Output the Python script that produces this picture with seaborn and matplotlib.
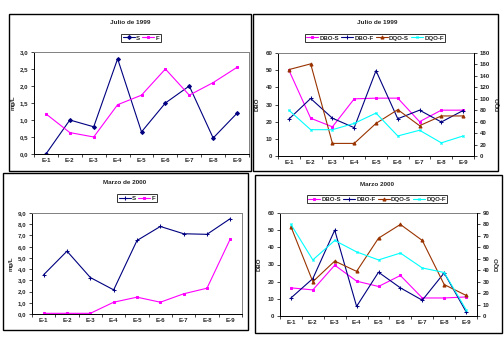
import matplotlib
matplotlib.use("Agg")
import matplotlib.pyplot as plt
from matplotlib.patches import Rectangle
from matplotlib.ticker import FuncFormatter, MultipleLocator, FixedLocator
import seaborn as sns
import pandas as pd

# ---------------- data ----------------
stations = ["E-1", "E-2", "E-3", "E-4", "E-5", "E-6", "E-7", "E-8", "E-9"]

# Julio de 1999 (mg/L)
jul_S = [0.0, 1.0, 0.8, 2.8, 0.65, 1.5, 2.0, 0.47, 1.2]
jul_F = [1.18, 0.63, 0.5, 1.45, 1.73, 2.5, 1.73, 2.1, 2.55]

# Julio de 1999 DBO (left) / DQO (right)
jul_DBO_S = [50.0, 22.0, 17.0, 33.3, 33.7, 33.7, 20.0, 26.7, 26.7]
jul_DBO_F = [21.5, 33.5, 22.0, 16.5, 49.7, 21.7, 26.7, 19.8, 26.5]
jul_DQO_S = [151, 161, 22, 22, 57, 81, 53, 70, 70]
jul_DQO_F = [80, 46, 46, 57, 75, 35, 45, 23, 35]

# Marzo de 2000 (mg/L)
mar_S = [3.5, 5.6, 3.25, 2.15, 6.55, 7.8, 7.15, 7.1, 8.5]
mar_F = [0.06, 0.06, 0.06, 1.05, 1.5, 1.05, 1.8, 2.3, 6.7]

# Marzo 2000 DBO (left) / DQO (right)
mar_DBO_S = [16.4, 15.2, 29.6, 20.3, 17.2, 23.6, 10.5, 10.5, 11.1]
mar_DBO_F = [10.5, 21.8, 50.0, 5.6, 25.5, 16.4, 9.2, 25.1, 2.5]
mar_DQO_S = [78, 30, 48, 39, 68, 80, 66, 27.5, 18]
mar_DQO_F = [80, 49, 66, 56, 49, 55, 42, 38, 5.6]

titles = ["Julio de 1999", "Julio de 1999", "Marzo de 2000", "Marzo 2000"]

# ---------------- style ----------------
sns.set_style("white")
plt.rcParams["font.family"] = ["Liberation Sans", "DejaVu Sans"]
FS = 4.4
W, H = 504, 343

NAVY = "#000080"
MAG = "#FF00FF"
BROWN = "#993300"
CYAN = "#00FFFF"
GREY = "#808080"

fig = plt.figure(figsize=(W / 100, H / 100), dpi=100)
fig.patch.set_facecolor("white")


def px_axes(x0, y0, x1, y1):
    return fig.add_axes([x0 / W, 1 - y1 / H, (x1 - x0) / W, (y1 - y0) / H])


def box(x0, y0, x1, y1):
    fig.patches.append(Rectangle((x0 / W, 1 - y1 / H), (x1 - x0) / W, (y1 - y0) / H,
                                 transform=fig.transFigure, fill=False,
                                 edgecolor="black", linewidth=1.0, zorder=0))


def comma(dec):
    return FuncFormatter(lambda v, p: (f"{v:.{dec}f}").replace(".", ","))


def style_x(ax):
    ax.set_xlim(-0.5, 8.5)
    ax.xaxis.set_minor_locator(FixedLocator([i - 0.5 for i in range(10)]))
    ax.tick_params(axis="x", which="major", length=0, labelsize=FS, pad=3)
    ax.tick_params(axis="x", which="minor", length=2.5, width=0.6, direction="out", bottom=True)
    ax.set_xlabel("")
    for lab in ax.get_xticklabels():
        lab.set_fontweight("bold")


def style_spines(ax, right_black=False):
    for s in ["left", "bottom"]:
        ax.spines[s].set_color("black")
        ax.spines[s].set_linewidth(0.7)
    ax.spines["top"].set_color(GREY)
    ax.spines["top"].set_linewidth(0.7)
    ax.spines["right"].set_color("black" if right_black else GREY)
    ax.spines["right"].set_linewidth(0.7)
    ax.tick_params(axis="y", which="major", length=2.5, width=0.6, direction="out",
                   left=True, labelsize=FS, pad=1.5)
    for lab in ax.get_yticklabels():
        lab.set_fontweight("bold")


def style_right(axb):
    axb.tick_params(axis="y", length=2.5, width=0.6, direction="out", right=True,
                    labelsize=FS, pad=1.5)
    for lab in axb.get_yticklabels():
        lab.set_fontweight("bold")
    for s in ["top", "left", "bottom"]:
        axb.spines[s].set_visible(False)
    axb.spines["right"].set_color("black")
    axb.spines["right"].set_linewidth(0.7)


def line(ax, vals, color, marker, label, ms=2.2):
    df = pd.DataFrame({"E": stations, "v": vals})
    sns.lineplot(data=df, x="E", y="v", ax=ax, color=color, marker=marker,
                 markersize=ms, markeredgecolor=color, markerfacecolor=color,
                 linewidth=0.8, label=label, sort=False)


def legend(handles, labels, cx, cy):
    leg = fig.legend(handles, labels, loc="center", bbox_to_anchor=(cx / W, 1 - cy / H),
                     ncol=len(labels), fontsize=FS, frameon=True, fancybox=False,
                     edgecolor="black", handlelength=2.0, handletextpad=0.2,
                     columnspacing=0.3, borderpad=0.2, borderaxespad=0)
    leg.get_frame().set_linewidth(0.7)
    for t in leg.get_texts():
        t.set_fontweight("bold")


def title(text, cx, cy):
    fig.text(cx / W, 1 - cy / H, text, ha="center", va="center", fontsize=FS + 0.2,
             fontweight="bold")


# boxes
box(9, 14, 251, 171)
box(253, 14, 498, 171)
box(3, 173, 248, 330)
box(255, 175, 502, 333)

# ---------- panel 1: Julio de 1999 S/F ----------
ax1 = px_axes(34, 52, 249, 154)
line(ax1, jul_S, NAVY, "D", "S", 2.0)
line(ax1, jul_F, MAG, "s", "F", 2.0)
ax1.set_ylim(0, 3.0)
ax1.yaxis.set_major_locator(MultipleLocator(0.5))
ax1.yaxis.set_major_formatter(comma(1))
ax1.set_ylabel("mg/L", fontsize=FS, fontweight="bold", labelpad=3)
h, l = ax1.get_legend_handles_labels()
ax1.get_legend().remove()
style_x(ax1)
style_spines(ax1)
legend(h, l, 141, 38)
title(titles[0], 130, 23)

# ---------- panel 2: Julio de 1999 DBO/DQO ----------
ax2 = px_axes(278, 53, 474, 156)
ax2b = ax2.twinx()
line(ax2, jul_DBO_S, MAG, "s", "DBO-S", 2.0)
line(ax2, jul_DBO_F, NAVY, "+", "DBO-F", 3.0)
line(ax2b, jul_DQO_S, BROWN, "^", "DQO-S", 2.2)
line(ax2b, jul_DQO_F, CYAN, "x", "DQO-F", 1.5)
ax2.set_ylim(0, 60)
ax2.yaxis.set_major_locator(MultipleLocator(10))
ax2.yaxis.set_major_formatter(comma(0))
ax2b.set_ylim(0, 180)
ax2b.yaxis.set_major_locator(MultipleLocator(20))
ax2.set_ylabel("DBO", fontsize=FS, fontweight="bold", labelpad=4)
ax2b.set_ylabel("DQO", fontsize=FS, fontweight="bold", labelpad=4)
h1, l1 = ax2.get_legend_handles_labels()
h2, l2 = ax2b.get_legend_handles_labels()
ax2.get_legend().remove()
ax2b.get_legend().remove()
style_x(ax2)
style_spines(ax2, right_black=True)
style_right(ax2b)
legend(h1 + h2, l1 + l2, 375, 38)
title(titles[1], 377, 23)

# ---------- panel 3: Marzo de 2000 S/F ----------
ax3 = px_axes(32, 213, 242, 314)
line(ax3, mar_S, NAVY, "+", "S", 3.0)
line(ax3, mar_F, MAG, "s", "F", 2.0)
ax3.set_ylim(0, 9.0)
ax3.yaxis.set_major_locator(MultipleLocator(1.0))
ax3.yaxis.set_major_formatter(comma(1))
ax3.set_ylabel("mg/L", fontsize=FS, fontweight="bold", labelpad=3)
h, l = ax3.get_legend_handles_labels()
ax3.get_legend().remove()
style_x(ax3)
style_spines(ax3)
legend(h, l, 137, 198)
title(titles[2], 125, 183)

# ---------- panel 4: Marzo 2000 DBO/DQO ----------
ax4 = px_axes(280, 213, 477, 316)
ax4b = ax4.twinx()
line(ax4, mar_DBO_S, MAG, "s", "DBO-S", 2.0)
line(ax4, mar_DBO_F, NAVY, "+", "DBO-F", 3.0)
line(ax4b, mar_DQO_S, BROWN, "^", "DQO-S", 2.2)
line(ax4b, mar_DQO_F, CYAN, "x", "DQO-F", 1.5)
ax4.set_ylim(0, 60)
ax4.yaxis.set_major_locator(MultipleLocator(10))
ax4.yaxis.set_major_formatter(comma(0))
ax4b.set_ylim(0, 90)
ax4b.yaxis.set_major_locator(MultipleLocator(10))
ax4.set_ylabel("DBO", fontsize=FS, fontweight="bold", labelpad=4)
ax4b.set_ylabel("DQO", fontsize=FS, fontweight="bold", labelpad=4)
h1, l1 = ax4.get_legend_handles_labels()
h2, l2 = ax4b.get_legend_handles_labels()
ax4.get_legend().remove()
ax4b.get_legend().remove()
style_x(ax4)
style_spines(ax4, right_black=True)
style_right(ax4b)
legend(h1 + h2, l1 + l2, 377, 199)
title(titles[3], 377, 185)

fig.savefig("out.png", dpi=100, facecolor="white")
